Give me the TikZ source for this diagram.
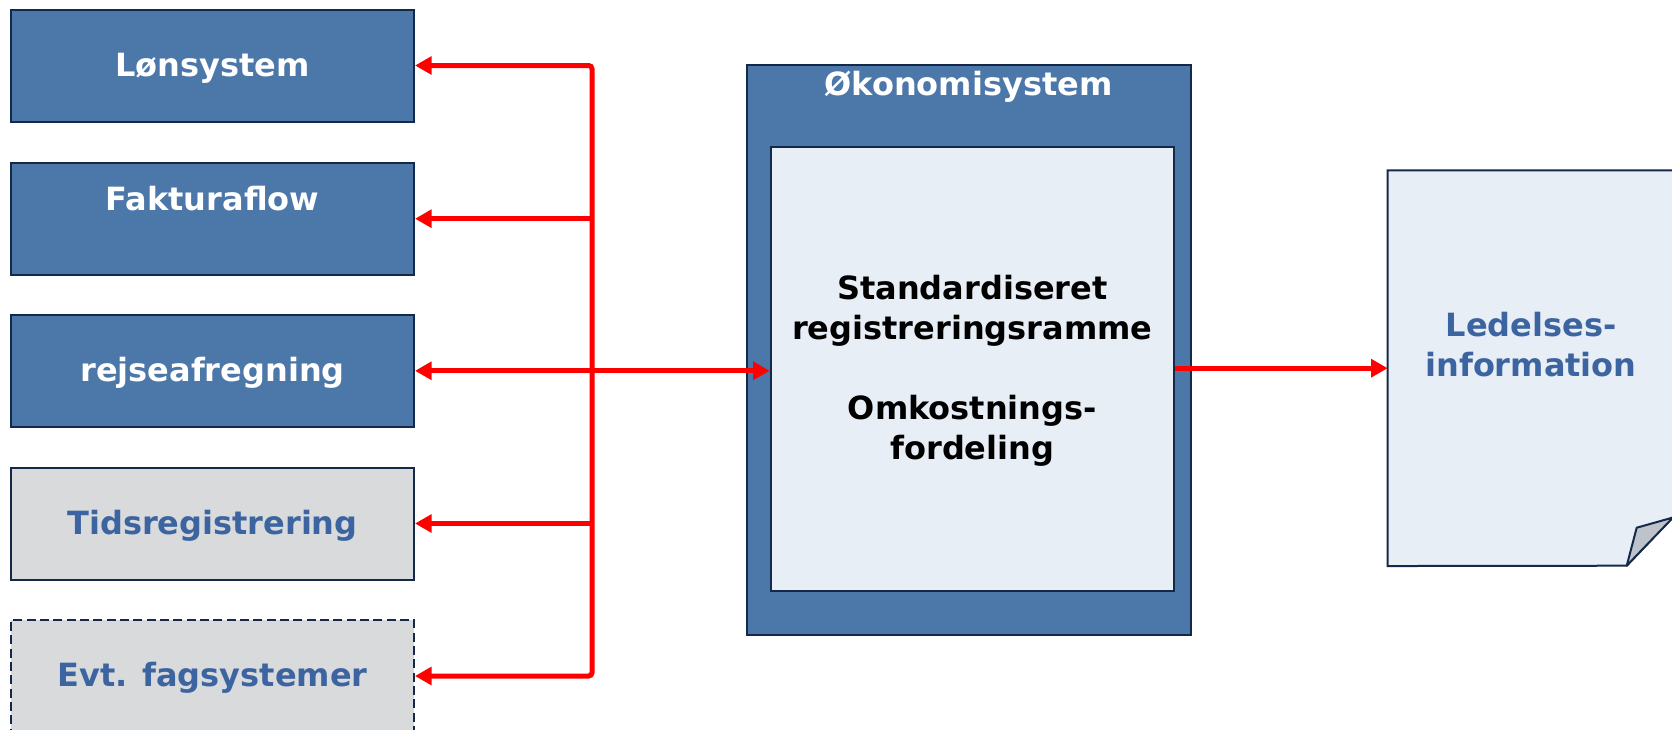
\documentclass[tikz,border=0pt]{standalone}
\usepackage{fontspec}
\setmainfont{DejaVu Sans}
\usetikzlibrary{arrows.meta,fit}
\definecolor{boxblue}{HTML}{4C77A9}
\definecolor{edge}{HTML}{14294A}
\definecolor{boxgray}{HTML}{D9DADC}
\definecolor{txtblue}{HTML}{3C64A0}
\definecolor{paleblue}{HTML}{E8EEF6}
\definecolor{foldgray}{HTML}{BEC3CB}
\definecolor{flowred}{HTML}{FF0000}
\begin{document}
\begin{tikzpicture}[x=0.6pt,y=-0.6pt,
  lbl/.style={font=\bfseries\fontsize{19.2pt}{24pt}\selectfont, align=center},
  sysbox/.style={draw=edge, line width=1.2pt, minimum width={403*0.6pt},
    minimum height={112*0.6pt}, inner sep=0pt, lbl},
  oneline/.style={text height=12.6pt, text depth=0pt},
  core/.style={sysbox, fill=boxblue, text=white},
  aux/.style={sysbox, fill=boxgray, text=txtblue},
  tip/.tip={Triangle[length=10pt,width=10.6pt]},
  flow/.style={draw=flowred, line width=3pt, -tip},
]
\useasboundingbox (0,0) rectangle (1672,729);

% source systems
\node[core, oneline] (lon) at (212.5,65.5) {Lønsystem};
\node[core] (fak) at (212.5,218.7) {Fakturaflow\\\mbox{}};
\node[core, oneline] (rej) at (212.5,370.8) {rejseafregning};
\node[aux, oneline] (tid) at (212.5,523.5) {Tidsregistrering};
\node[aux, oneline, dash pattern=on 5.4pt off 2.6pt] (evt) at (212.5,676) {Evt. fagsystemer};

% finance system with its registration frame
\node[draw=edge, fill=boxblue, line width=1.2pt, inner sep=0pt,
  minimum width={443.7*0.6pt}, minimum height={570*0.6pt}] (oko) at (969.2,350) {};
\node[lbl, text=white] (okotitle) at (968.5,86.5) {Økonomisystem};
\node[draw=edge, fill=paleblue, line width=1.2pt, inner sep=0pt,
  minimum width={403.3*0.6pt}, minimum height={444*0.6pt}] (reg) at (972.35,368.7) {};
\node[lbl] (regtxt) at (972.35,371) 
  {Standardiseret\\registreringsramme\\[24pt]Omkostnings-\\fordeling};

% management information sheet with curled corner
\node[fit={(1388,170.7)(1674,565.7)}, inner sep=0pt] (doc) {};
\draw[edge, fill=paleblue, line width=1.2pt]
  (doc.north west) -- (doc.north east) -- (1674,516) -- (1626.7,565.7)
  -- (doc.south west) -- cycle;
\draw[edge, fill=foldgray, line width=1.2pt, line join=round]
  (1626.7,565.7) -- (1636.7,527.7) -- (1673,517.5) -- cycle;
\node[lbl, text=txtblue] (ledtxt) at (1531,345) {Ledelses-\\information};

% data flows
\coordinate (jx) at (592,370);
\draw[flow, tip-tip, rounded corners=2pt]
  (lon.east) -- (lon.east -| jx) -- (evt.east -| jx) -- (evt.east);
\draw[flow] (fak.east -| jx) -- (fak.east);
\draw[flow] (rej.east -| jx) -- (rej.east);
\draw[flow] (tid.east -| jx) -- (tid.east);
\draw[flow] (rej.east -| jx) -- (rej.east -| reg.west);
\draw[flow] (reg.east |- doc.west) -- (doc.west);
\end{tikzpicture}
\end{document}
